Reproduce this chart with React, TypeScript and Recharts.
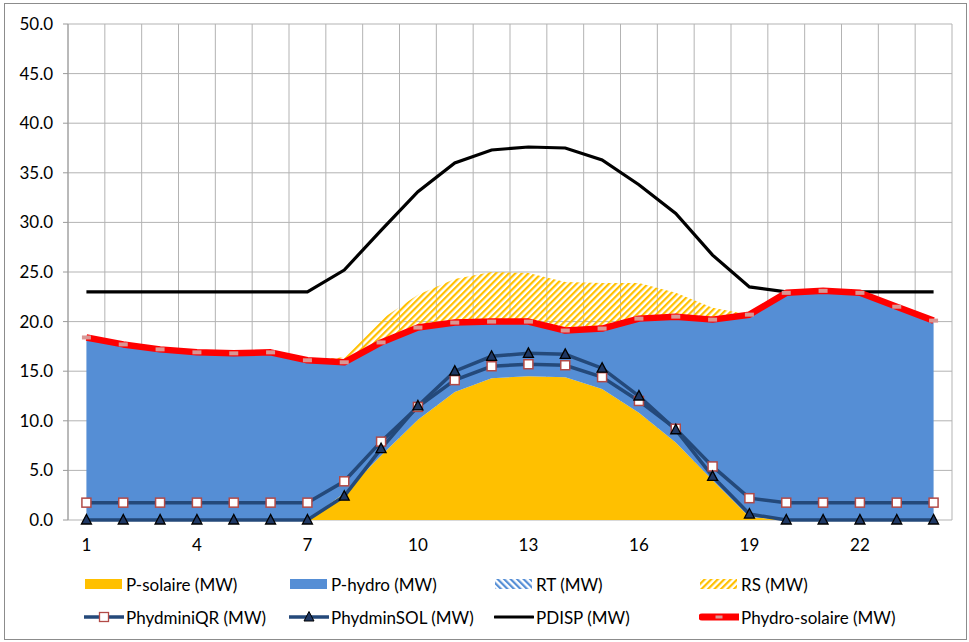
import React from 'react';
import { ComposedChart, Area, Line, XAxis, YAxis, CartesianGrid } from 'recharts';

// hours of the day (category axis)
const hours = [1, 2, 3, 4, 5, 6, 7, 8, 9, 10, 11, 12, 13, 14, 15, 16, 17, 18, 19, 20, 21, 22, 23, 24];

// stacked areas (MW)
const pSolaire = [0, 0, 0, 0, 0, 0, 0, 2.7, 6.5, 10.1, 12.9, 14.3, 14.5, 14.4, 13.2, 10.8, 7.8, 4.0, 0.3, 0, 0, 0, 0, 0];
const pHydro = [18.4, 17.7, 17.2, 16.9, 16.8, 16.9, 16.1, 13.2, 11.4, 9.3, 7.0, 5.7, 5.5, 4.7, 6.1, 9.5, 12.7, 16.2, 20.4, 22.9, 23.1, 22.9, 21.5, 20.1];
const rt = [0, 0, 0, 0, 0, 0, 0, 0, 0, 0, 0, 0, 0, 0, 0, 0, 0, 0, 0, 0, 0, 0, 0, 0];
const rs = [0, 0, 0, 0, 0, 0, 0, 0.5, 2.3, 3.3, 4.4, 5.0, 4.9, 4.9, 4.6, 3.6, 2.4, 1.2, 0, 0, 0, 0, 0, 0];

// lines (MW)
const phydminiQR = [1.75, 1.75, 1.75, 1.75, 1.75, 1.75, 1.75, 3.9, 7.9, 11.4, 14.1, 15.5, 15.7, 15.6, 14.4, 12.0, 9.2, 5.4, 2.2, 1.75, 1.75, 1.75, 1.75, 1.75];
const phydminSOL = [0, 0, 0, 0, 0, 0, 0, 2.4, 7.2, 11.5, 15.0, 16.5, 16.8, 16.7, 15.3, 12.5, 9.1, 4.4, 0.6, 0, 0, 0, 0, 0];
const pdisp = [23.0, 23.0, 23.0, 23.0, 23.0, 23.0, 23.0, 25.2, 29.2, 33.1, 36.0, 37.3, 37.6, 37.5, 36.3, 33.8, 30.9, 26.7, 23.5, 23.0, 23.0, 23.0, 23.0, 23.0];
const phydroSolaire = [18.4, 17.7, 17.2, 16.9, 16.8, 16.9, 16.1, 15.9, 17.9, 19.4, 19.9, 20.0, 20.0, 19.1, 19.3, 20.3, 20.5, 20.2, 20.7, 22.9, 23.1, 22.9, 21.5, 20.1];

// axis ticks
const yTicks = [0, 5, 10, 15, 20, 25, 30, 35, 40, 45, 50];
const xLabelTicks = [1, 4, 7, 10, 13, 16, 19, 22];
const hourEdges = [0.5, 1.5, 2.5, 3.5, 4.5, 5.5, 6.5, 7.5, 8.5, 9.5, 10.5, 11.5, 12.5, 13.5, 14.5, 15.5, 16.5, 17.5, 18.5, 19.5, 20.5, 21.5, 22.5, 23.5, 24.5];

const data = hours.map((h, i) => ({
  hour: h,
  pSolaire: pSolaire[i],
  pHydro: pHydro[i],
  rt: rt[i],
  rs: rs[i],
  phydminiQR: phydminiQR[i],
  phydminSOL: phydminSOL[i],
  pdisp: pdisp[i],
  phydroSolaire: phydroSolaire[i],
}));

const FONT = 'Lato, "Liberation Sans", sans-serif';
const GRID = '#b3b3b3';
const AXIS = '#9a9a9a';
const NAVY = '#24497a';

const SquareDot = (props: any) => {
  const { cx, cy, index } = props;
  if (cx == null || cy == null) return null;
  return (
    <rect key={`sq-${index}`} x={cx - 4.5} y={cy - 4.5} width={9} height={9} fill="#fff" stroke="#b24a47" strokeWidth={1.5} />
  );
};

const TriangleDot = (props: any) => {
  const { cx, cy, index } = props;
  if (cx == null || cy == null) return null;
  return (
    <polygon
      key={`tr-${index}`}
      points={`${cx},${cy - 5.5} ${cx - 5},${cy + 4} ${cx + 5},${cy + 4}`}
      fill="#1f3864"
      stroke="#000"
      strokeWidth={1.3}
    />
  );
};

const RedDot = (props: any) => {
  const { cx, cy, index } = props;
  if (cx == null || cy == null) return null;
  return <rect key={`rd-${index}`} x={cx - 4.5} y={cy - 2} width={9} height={4} fill="#d99694" />;
};

const legendItems = [
  { label: 'P-solaire (MW)', kind: 'solaire' },
  { label: 'P-hydro (MW)', kind: 'hydro' },
  { label: 'RT (MW)', kind: 'rt' },
  { label: 'RS (MW)', kind: 'rs' },
  { label: 'PhydminiQR (MW)', kind: 'qr' },
  { label: 'PhydminSOL (MW)', kind: 'sol' },
  { label: 'PDISP (MW)', kind: 'pdisp' },
  { label: 'Phydro-solaire (MW)', kind: 'red' },
];

function Hatch({ id, color, angle }: { id: string; color: string; angle: number }) {
  return (
    <pattern id={id} width="4.6" height="4.6" patternUnits="userSpaceOnUse" patternTransform={`rotate(${angle})`}>
      <rect width="2.2" height="4.6" fill={color} />
    </pattern>
  );
}

function LegendIcon({ kind }: { kind: string }) {
  return (
    <svg width={40} height={14} style={{ display: 'block' }}>
      <defs>
        <Hatch id="lg-rs" color="#ffc000" angle={45} />
        <Hatch id="lg-rt" color="#558ed5" angle={-45} />
      </defs>
      {kind === 'solaire' && <rect x={1} y={2} width={37} height={10} fill="#ffc000" />}
      {kind === 'hydro' && <rect x={1} y={2} width={37} height={10} fill="#558ed5" />}
      {kind === 'rt' && <rect x={1} y={2} width={37} height={10} fill="url(#lg-rt)" />}
      {kind === 'rs' && <rect x={1} y={2} width={37} height={10} fill="url(#lg-rs)" />}
      {kind === 'qr' && (
        <g>
          <line x1={0} y1={7} x2={40} y2={7} stroke={NAVY} strokeWidth={3.5} strokeLinecap="round" />
          <rect x={15.5} y={2.5} width={9} height={9} fill="#fff" stroke="#b24a47" strokeWidth={1.3} />
        </g>
      )}
      {kind === 'sol' && (
        <g>
          <line x1={0} y1={7} x2={40} y2={7} stroke={NAVY} strokeWidth={3.5} strokeLinecap="round" />
          <polygon points="20,1.5 15,11 25,11" fill="#1f3864" stroke="#000" strokeWidth={1} />
        </g>
      )}
      {kind === 'pdisp' && <line x1={1} y1={7} x2={39} y2={7} stroke="#000" strokeWidth={3.2} strokeLinecap="round" />}
      {kind === 'red' && (
        <g>
          <line x1={3} y1={7} x2={39} y2={7} stroke="#ff0000" strokeWidth={7} strokeLinecap="round" />
          <rect x={16.5} y={5.5} width={7} height={3} fill="#d99694" />
        </g>
      )}
    </svg>
  );
}

export default function App() {
  const colX = [84, 289, 494, 699];
  const rowY = [584, 617];

  return (
    <div style={{ position: 'fixed', left: 0, top: 0, width: 969, height: 642, background: '#fff', fontFamily: FONT }}>
      <div style={{ position: 'absolute', left: 4, top: 3, width: 961, height: 635, border: '1px solid #8c8c8c' }} />
      <div style={{ position: 'absolute', left: 0, top: 0 }}>
        <ComposedChart width={969} height={642} data={data} margin={{ top: 24, right: 17, left: 8, bottom: 92 }}>
          <defs>
            <Hatch id="rsHatch" color="#ffc000" angle={45} />
            <Hatch id="rtHatch" color="#558ed5" angle={-45} />
          </defs>
          <CartesianGrid xAxisId="edges" stroke={GRID} strokeWidth={1} horizontalValues={yTicks} />
          <XAxis
            xAxisId="edges"
            dataKey="hour"
            type="number"
            domain={[0.5, 24.5]}
            allowDataOverflow
            ticks={hourEdges}
            tickFormatter={() => ''}
            tickSize={6}
            height={0}
            axisLine={{ stroke: AXIS }}
            tickLine={{ stroke: AXIS }}
          />
          <XAxis
            xAxisId="hours"
            dataKey="hour"
            type="number"
            domain={[0.5, 24.5]}
            allowDataOverflow
            ticks={xLabelTicks}
            interval={0}
            axisLine={false}
            tickLine={false}
            tickSize={6}
            tickMargin={13}
            height={30}
            tick={{ fontSize: 17, fill: '#000', fontFamily: FONT }}
          />
          <YAxis
            domain={[0, 50]}
            ticks={yTicks}
            interval={0}
            width={60}
            tickFormatter={(v: number) => v.toFixed(1)}
            tickSize={5}
            tickMargin={10}
            axisLine={{ stroke: AXIS }}
            tickLine={{ stroke: AXIS }}
            tick={{ fontSize: 17, fill: '#000', fontFamily: FONT }}
          />
          <Area xAxisId="hours" type="linear" dataKey="pSolaire" stackId="s" stroke="none" fill="#ffc000" fillOpacity={1} isAnimationActive={false} activeDot={false} />
          <Area xAxisId="hours" type="linear" dataKey="pHydro" stackId="s" stroke="none" fill="#558ed5" fillOpacity={1} isAnimationActive={false} activeDot={false} />
          <Area xAxisId="hours" type="linear" dataKey="rt" stackId="s" stroke="none" fill="url(#rtHatch)" fillOpacity={1} isAnimationActive={false} activeDot={false} />
          <Area xAxisId="hours" type="linear" dataKey="rs" stackId="s" stroke="none" fill="url(#rsHatch)" fillOpacity={1} isAnimationActive={false} activeDot={false} />
          <Line xAxisId="hours" type="linear" dataKey="pdisp" stroke="#000" strokeWidth={3.2} dot={false} activeDot={false} isAnimationActive={false} />
          <Line xAxisId="hours" type="linear" dataKey="phydroSolaire" stroke="#ff0000" strokeWidth={6.5} strokeLinejoin="round" dot={RedDot} activeDot={false} isAnimationActive={false} />
          <Line xAxisId="hours" type="linear" dataKey="phydminiQR" stroke={NAVY} strokeWidth={3.5} dot={SquareDot} activeDot={false} isAnimationActive={false} />
          <Line xAxisId="hours" type="linear" dataKey="phydminSOL" stroke={NAVY} strokeWidth={3.5} dot={TriangleDot} activeDot={false} isAnimationActive={false} />
        </ComposedChart>
      </div>
      {legendItems.map((item, i) => (
        <div
          key={item.label}
          style={{
            position: 'absolute',
            left: colX[i % 4],
            top: rowY[Math.floor(i / 4)] - 11,
            height: 22,
            display: 'flex',
            alignItems: 'center',
            gap: 2,
            fontSize: 17,
            color: '#000',
            whiteSpace: 'nowrap',
          }}
        >
          <LegendIcon kind={item.kind} />
          <span>{item.label}</span>
        </div>
      ))}
    </div>
  );
}
